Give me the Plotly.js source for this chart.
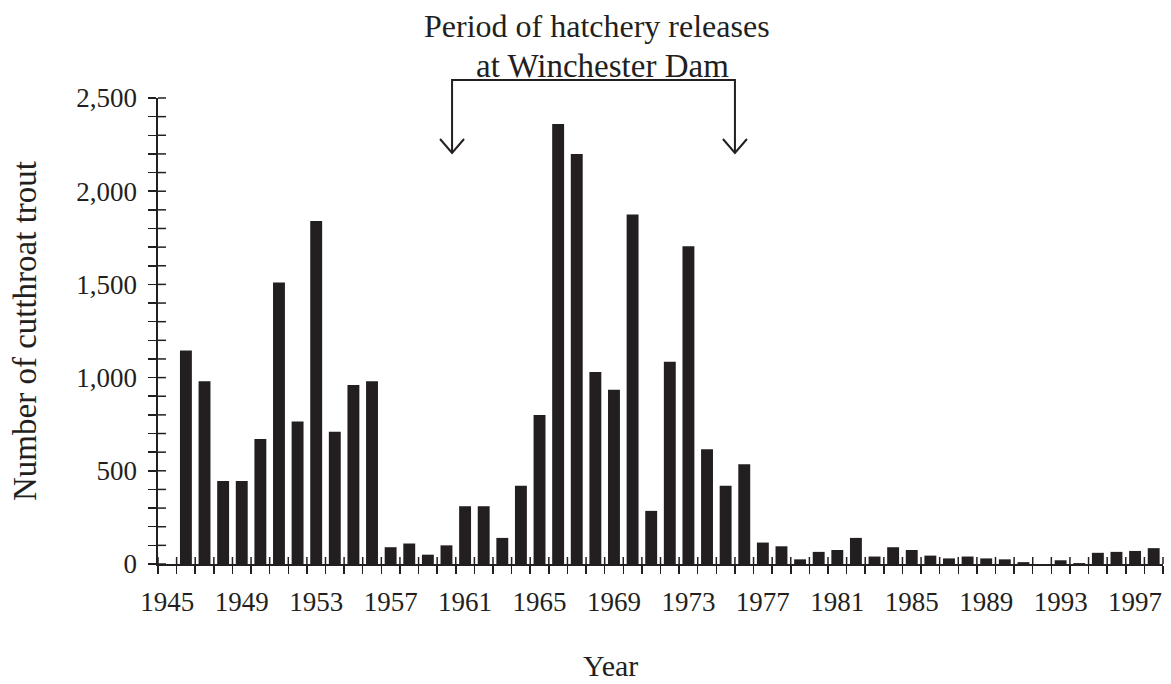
<!DOCTYPE html>
<html><head><meta charset="utf-8">
<script src="https://cdn.plot.ly/plotly-3.0.1.min.js"></script>
<style>html,body{margin:0;padding:0;background:#fff}#chart{width:1171px;height:684px}</style>
</head><body><div id="chart"></div>
<script>
// ---- data ----
const years = [1946,1947,1948,1949,1950,1951,1952,1953,1954,1955,1956,1957,1958,1959,1960,
  1961,1962,1963,1964,1965,1966,1967,1968,1969,1970,1971,1972,1973,1974,1975,1976,1977,1978,
  1979,1980,1981,1982,1983,1984,1985,1986,1987,1988,1989,1990,1991,1992,1993,1994,1995,1996,1997,1998];
const trout = [1145,980,445,445,670,1510,765,1840,710,960,980,90,110,50,100,
  310,310,140,420,800,2360,2200,1030,935,1875,285,1085,1705,615,420,535,115,95,
  25,65,75,140,40,90,75,45,30,40,30,25,10,0,20,5,60,65,70,85];
const labelYears = [1945,1949,1953,1957,1961,1965,1969,1973,1977,1981,1985,1989,1993,1997];
const yTicks = [0,500,1000,1500,2000,2500];
const hatcheryPeriod = [1960.3, 1975.5];
const noteLines = ['Period of hatchery releases', 'at Winchester Dam'];
const xTitle = 'Year';
const yTitle = 'Number of cutthroat trout';

// ---- layout helpers ----
const FONT = 'Liberation Serif, Times New Roman, serif';
const INK = '#231f20';
const M = {l:158, r:8, t:98, b:120};
const W = 1171, H = 684;
const PW = W - M.l - M.r, PH = H - M.t - M.b;
const xRange = [1944.5, 1998.5], yRange = [0, 2500];
const xp = v => (v - xRange[0]) / (xRange[1] - xRange[0]);   // data x -> paper
const yp = v => (v - yRange[0]) / (yRange[1] - yRange[0]);   // data y -> paper
const xpx = p => (p - M.l) / PW;                              // page pixel x -> paper
const ypx = p => 1 + (M.t - p) / PH;                          // page pixel y -> paper
const dxp = p => p / PW, dyp = p => p / PH;

const yTop = ypx(80), yTip = ypx(153);
const xa = xp(hatcheryPeriod[0]), xb = xp(hatcheryPeriod[1]);
const ah = dxp(12), av = dyp(14);

const tickStyle = {color:INK, width:1.5};
const shapes = [
  {type:'path', xref:'paper', yref:'paper',
   path:`M ${xa},${yTip} L ${xa},${yTop} L ${xb},${yTop} L ${xb},${yTip}`,
   line:{color:INK, width:2}},
  {type:'path', xref:'paper', yref:'paper',
   path:`M ${xa-ah},${yTip+av} L ${xa},${yTip} L ${xa+ah},${yTip+av}`,
   line:{color:INK, width:2}},
  {type:'path', xref:'paper', yref:'paper',
   path:`M ${xb-ah},${yTip+av} L ${xb},${yTip} L ${xb+ah},${yTip+av}`,
   line:{color:INK, width:2}}
];
// inner halves of the cross-style tick marks (outer halves come from the axes)
for (let t = xRange[0]; t <= xRange[1] + 1e-9; t += 1) {
  shapes.push({type:'line', xref:'paper', yref:'paper', x0:xp(t), x1:xp(t), y0:0, y1:dyp(7), line:tickStyle});
}
for (let v = yRange[0]; v <= yRange[1] + 1e-9; v += 100) {
  shapes.push({type:'line', xref:'paper', yref:'paper', x0:0, x1:dxp(8), y0:yp(v), y1:yp(v), line:tickStyle});
}

const annotations = [
  {text:noteLines[0], xref:'paper', yref:'paper', x:xpx(597), y:ypx(26), xanchor:'center', yanchor:'middle',
   showarrow:false, font:{family:FONT, size:32, color:INK}},
  {text:noteLines[1], xref:'paper', yref:'paper', x:xpx(602), y:ypx(66), xanchor:'center', yanchor:'middle',
   showarrow:false, font:{family:FONT, size:33, color:INK}},
  {text:xTitle, xref:'paper', yref:'paper', x:xpx(610), y:ypx(665), xanchor:'center', yanchor:'middle',
   showarrow:false, font:{family:FONT, size:30, color:INK}}
];

const traces = [
  {type:'bar', x:years, y:trout, width:0.64, marker:{color:INK, line:{width:0}}, hoverinfo:'x+y'}
];

const layout = {
  width:W, height:H, margin:M, paper_bgcolor:'#fff', plot_bgcolor:'#fff',
  showlegend:false, font:{family:FONT, color:INK},
  xaxis:{range:xRange, tickmode:'array', tickvals:labelYears, ticktext:labelYears.map(String),
    ticks:'', showgrid:false, zeroline:false, showline:true, linecolor:INK, linewidth:1.6,
    ticklabelstandoff:13, tickfont:{family:FONT, size:27, color:INK},
    minor:{tick0:xRange[0], dtick:1, ticks:'outside', ticklen:8, tickwidth:1.5, tickcolor:INK, showgrid:false}},
  yaxis:{range:yRange, tickmode:'array', tickvals:yTicks, tickformat:',', ticks:'outside', ticklen:8,
    tickwidth:1.5, tickcolor:INK, showgrid:false, zeroline:false, showline:true, linecolor:INK, linewidth:1.6,
    tickfont:{family:FONT, size:27, color:INK}, ticklabelstandoff:6,
    minor:{dtick:100, ticks:'outside', ticklen:8, tickwidth:1.5, tickcolor:INK, showgrid:false},
    title:{text:yTitle, font:{family:FONT, size:33, color:INK}, standoff:30}},
  shapes:shapes, annotations:annotations
};

Plotly.newPlot('chart', traces, layout, {displayModeBar:false, staticPlot:true});
</script></body></html>
